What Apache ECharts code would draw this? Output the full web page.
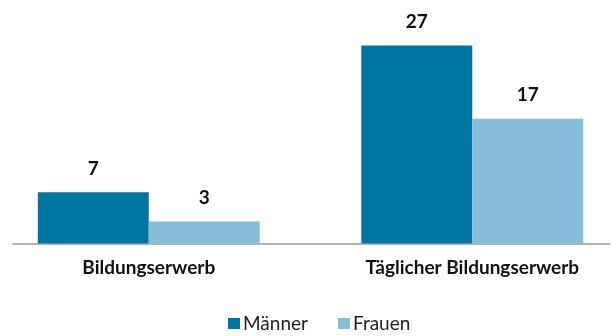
<!DOCTYPE html>
<html>
<head>
<meta charset="utf-8">
<script src="https://cdn.jsdelivr.net/npm/echarts@6/dist/echarts.min.js"></script>
<style>
  html, body { margin: 0; padding: 0; background: #fff; }
  #chart { width: 616px; height: 336px; }
</style>
</head>
<body>
<div id="chart"></div>
<script>
// Categories and values
const categories = ['Bildungserwerb', 'Täglicher Bildungserwerb'];
const seriesNames = ['Männer', 'Frauen'];
const maenner = [7, 27];
const frauen = [3, 17];

const FONT = 'Lato';
const chart = echarts.init(document.getElementById('chart'), null, { renderer: 'canvas' });

const valueLabel = {
  show: true,
  position: 'top',
  distance: 14,
  color: '#111',
  fontFamily: FONT,
  fontWeight: 'bold',
  fontSize: 19
};

chart.setOption({
  animation: false,
  backgroundColor: '#fff',
  grid: [
    // main plot: categories are wider than the visible baseline
    { left: -13, width: 647, top: 23.5, bottom: 92.5, containLabel: false, outerBoundsMode: 'none' },
    // baseline only
    { left: 13, right: 6, top: 23.5, bottom: 92.5, containLabel: false, outerBoundsMode: 'none' }
  ],
  legend: {
    data: seriesNames,
    top: 309,
    left: 223,
    itemWidth: 12,
    itemHeight: 11,
    itemGap: 30,
    icon: 'rect',
    textStyle: { fontFamily: FONT, fontSize: 19, color: '#222', padding: [0, 0, 0, -2] }
  },
  xAxis: [
    {
      type: 'category',
      gridIndex: 0,
      data: categories,
      axisLine: { show: false },
      axisTick: { show: false },
      axisLabel: {
        margin: 15,
        color: '#111',
        fontFamily: FONT,
        fontWeight: 'bold',
        fontSize: 19
      }
    },
    {
      type: 'value',
      gridIndex: 1,
      min: 0, max: 1,
      axisLine: { show: true, onZero: false, lineStyle: { color: '#9a9a9a', width: 1.5 } },
      axisTick: { show: false },
      axisLabel: { show: false },
      splitLine: { show: false }
    }
  ],
  yAxis: [
    { type: 'value', gridIndex: 0, min: 0, max: 30, show: false, splitLine: { show: false } },
    { type: 'value', gridIndex: 1, min: 0, max: 1, show: false, splitLine: { show: false } }
  ],
  series: [
    {
      name: seriesNames[0],
      type: 'bar',
      xAxisIndex: 0, yAxisIndex: 0,
      data: maenner,
      barGap: '0%',
      barCategoryGap: '31.4%',
      itemStyle: { color: '#0077a3' },
      label: valueLabel
    },
    {
      name: seriesNames[1],
      type: 'bar',
      xAxisIndex: 0, yAxisIndex: 0,
      data: frauen,
      barGap: '0%',
      barCategoryGap: '31.4%',
      itemStyle: { color: '#86bed9' },
      label: valueLabel
    }
  ]
});
</script>
</body>
</html>
